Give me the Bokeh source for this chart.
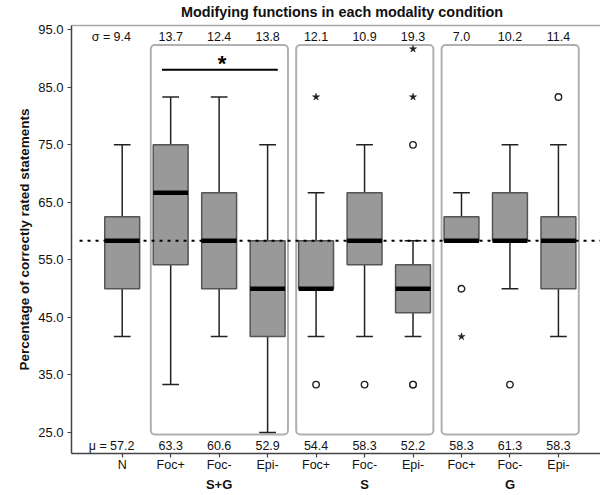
from bokeh.plotting import figure
from bokeh.models import (ColumnDataSource, Range1d, FixedTicker, PrintfTickFormatter,
                          LinearAxis)
from bokeh.core.properties import value
from bokeh.embed import file_html
from bokeh.resources import INLINE

# ---------------- data ----------------
categories = ["N", "Foc+", "Foc-", "Epi-", "Foc+", "Foc-", "Epi-", "Foc+", "Foc-", "Epi-"]
groups = ["S+G", "S", "G"]
group_first = [1, 4, 7]
group_last = [3, 6, 9]
group_center = [2, 5, 8]

whisker_low = [41.67, 33.33, 41.67, 25.00, 41.67, 41.67, 41.67, 58.33, 50.00, 41.67]
q1 = [50.00, 54.17, 50.00, 41.67, 50.00, 54.17, 45.83, 58.33, 58.33, 50.00]
median = [58.33, 66.67, 58.33, 50.00, 50.00, 58.33, 50.00, 58.33, 58.33, 58.33]
q3 = [62.50, 75.00, 66.67, 58.33, 58.33, 66.67, 54.17, 62.50, 66.67, 62.50]
whisker_high = [75.00, 83.33, 83.33, 75.00, 66.67, 75.00, 58.33, 66.67, 75.00, 75.00]

circle_out_x = [4, 5, 6, 6, 6, 7, 8, 9]
circle_out_y = [33.33, 33.33, 75.00, 33.33, 33.33, 50.00, 33.33, 83.33]
star_out_x = [4, 6, 6, 7]
star_out_y = [83.33, 91.67, 83.33, 41.67]

sigma = ["9.4", "13.7", "12.4", "13.8", "12.1", "10.9", "19.3", "7.0", "10.2", "11.4"]
mu = ["57.2", "63.3", "60.6", "52.9", "54.4", "58.3", "52.2", "58.3", "61.3", "58.3"]

reference_line = 58.33
sig_from = 0.82
sig_to = 3.21
sig_y = 88.07
sig_star_y = 89.8

y_ticks = [25, 35, 45, 55, 65, 75, 85, 95]
title_text = "Modifying functions in each modality condition"
title_pos = 4.535

# ---------------- layout constants ----------------
FONT = "Liberation Sans"
box_w = 0.72
cap_w = 0.345
sigma_y = 93.8
mu_y = 22.73

xs = list(range(len(categories)))

p = figure(width=600, height=495,
           x_range=Range1d(-1.046, 9.868), y_range=Range1d(21.35, 95.75),
           output_backend="svg", toolbar_location=None,
           min_border_left=71, min_border_right=0, min_border_top=25, min_border_bottom=42)
p.background_fill_color = "white"
p.border_fill_color = "white"
p.outline_line_color = None
p.xgrid.visible = False
p.ygrid.visible = False

# axes
p.xaxis.ticker = FixedTicker(ticks=xs)
p.xaxis.major_label_overrides = {i: c for i, c in zip(xs, categories)}
p.yaxis.ticker = FixedTicker(ticks=y_ticks)
p.yaxis.formatter = PrintfTickFormatter(format="%.1f")
for ax in (p.xaxis, p.yaxis):
    ax.axis_line_color = "#444444"
    ax.axis_line_width = 1.5
    ax.major_tick_line_color = "#444444"
    ax.major_tick_line_width = 1.2
    ax.major_tick_out = 4
    ax.major_tick_in = 0
    ax.minor_tick_line_color = None
    ax.major_label_text_font = FONT
    ax.major_label_text_color = "#111111"
p.xaxis.major_label_text_font_size = "12.5px"
p.xaxis.major_label_standoff = 0
p.yaxis.major_label_text_font_size = "13px"
p.yaxis.major_label_standoff = 4
p.yaxis.axis_label = "Percentage of correctly rated statements"
p.yaxis.axis_label_text_font = FONT
p.yaxis.axis_label_text_font_size = "13.5px"
p.yaxis.axis_label_text_font_style = "bold"
p.yaxis.axis_label_text_color = "#111111"
p.yaxis.axis_label_standoff = 3

# group names as a second axis below
group_ax = LinearAxis(ticker=FixedTicker(ticks=group_center),
                      major_label_overrides={c: g for c, g in zip(group_center, groups)},
                      axis_line_color=None, major_tick_line_color=None, minor_tick_line_color=None,
                      major_tick_out=0, major_tick_in=0,
                      major_label_text_font=FONT, major_label_text_font_size="13px",
                      major_label_text_font_style="bold", major_label_text_color="#111111",
                      major_label_standoff=2)
p.add_layout(group_ax, "below")

# top border line + title as an axis above
top_ax = LinearAxis(ticker=FixedTicker(ticks=[title_pos]),
                    major_label_overrides={title_pos: title_text},
                    major_label_text_font=FONT, major_label_text_font_size="14.4px",
                    major_label_text_font_style="bold", major_label_text_color="#111111",
                    major_label_standoff=6,
                    major_tick_out=0, major_tick_in=0, minor_tick_out=0, minor_tick_in=0,
                    major_tick_line_color=None, minor_tick_line_color=None,
                    axis_line_color="#aaaaaa", axis_line_width=1.5)
p.add_layout(top_ax, "above")

# group frames
gsrc = ColumnDataSource(dict(
    left=[f - 0.41 for f in group_first],
    right=[l + 0.42 for l in group_last],
))
p.quad(left="left", right="right", top=92.36, bottom=24.65, source=gsrc,
       fill_color=None, line_color="#b0b0b0", line_width=2, border_radius=4)

# box plots
src = ColumnDataSource(dict(
    x=xs, lo=whisker_low, q1=q1, med=median, q3=q3, hi=whisker_high,
    bl=[x - box_w / 2 for x in xs], br=[x + box_w / 2 for x in xs],
    cl=[x - cap_w / 2 for x in xs], cr=[x + cap_w / 2 for x in xs],
))
p.segment(x0="x", y0="q3", x1="x", y1="hi", source=src, line_color="#222222", line_width=1.5)
p.segment(x0="x", y0="q1", x1="x", y1="lo", source=src, line_color="#222222", line_width=1.5)
p.segment(x0="cl", y0="hi", x1="cr", y1="hi", source=src, line_color="#222222", line_width=1.5)
p.segment(x0="cl", y0="lo", x1="cr", y1="lo", source=src, line_color="#222222", line_width=1.5)
p.vbar(x="x", width=box_w, top="q3", bottom="q1", source=src,
       fill_color="#999999", line_color="#555555", line_width=1.5)
p.segment(x0="bl", y0="med", x1="br", y1="med", source=src, line_color="black",
          line_width=4.5, line_cap="butt")

# outliers
p.scatter(x=circle_out_x, y=circle_out_y, marker="circle", size=6.5,
          fill_color="white", line_color="#222222", line_width=1.4)
p.scatter(x=star_out_x, y=star_out_y, marker="star", size=7.5,
          fill_color="#222222", line_color="#222222", line_width=0.5)

# reference dotted line
p.segment(x0=[-0.88], y0=[reference_line], x1=[9.95], y1=[reference_line],
          line_color="black", line_width=2, line_dash="3 5")

# significance bar
p.segment(x0=[sig_from], y0=[sig_y], x1=[sig_to], y1=[sig_y], line_color="black", line_width=2)
p.text(x=[(sig_from + sig_to) / 2 + 0.045], y=[sig_star_y], text=["*"],
       text_font=value(FONT), text_font_size="22px", text_font_style="bold",
       text_align="center", text_baseline="middle", y_offset=4, text_color="black")

# sigma and mu labels
p.text(x=xs, y=[sigma_y] * len(xs), text=sigma, text_font=value(FONT),
       text_font_size="12.5px", text_align="center", text_baseline="middle", text_color="#111111")
p.text(x=[0], y=[sigma_y], text=["σ ="], text_font=value(FONT), x_offset=-12,
       text_font_size="12.5px", text_align="right", text_baseline="middle", text_color="#111111")
p.text(x=xs, y=[mu_y] * len(xs), text=mu, text_font=value(FONT),
       text_font_size="12.5px", text_align="center", text_baseline="middle", text_color="#111111")
p.text(x=[0], y=[mu_y], text=["μ ="], text_font=value(FONT), x_offset=-15.5,
       text_font_size="12.5px", text_align="right", text_baseline="middle", text_color="#111111")

open("out.html", "w").write(file_html(p, INLINE))
